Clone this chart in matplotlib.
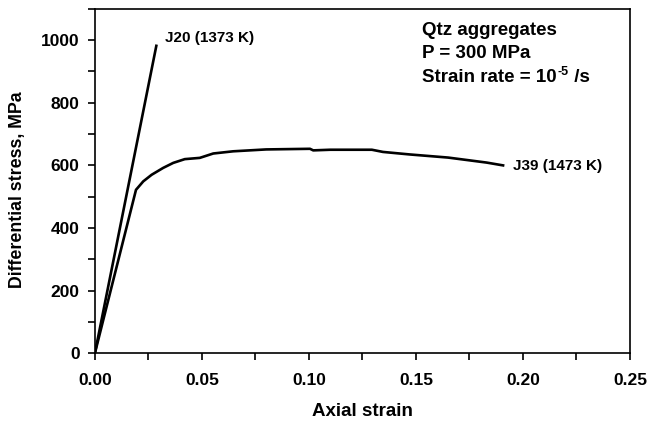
import matplotlib
matplotlib.use('Agg')
import matplotlib.pyplot as plt
from matplotlib.ticker import MultipleLocator, FormatStrFormatter

plt.rcParams['font.family'] = ['Liberation Sans', 'DejaVu Sans']
plt.rcParams['font.weight'] = 'bold'

# J20 (1373 K) - straight elastic loading
j20_strain = [0.0, 0.0287]
j20_stress = [0, 982]

# J39 (1473 K)
j39_strain = [0.0, 0.0192, 0.0226, 0.0265, 0.0319, 0.0366, 0.042, 0.049, 0.0553,
              0.0646, 0.080, 0.1005, 0.102, 0.11, 0.1294, 0.1346, 0.147, 0.165,
              0.183, 0.1907]
j39_stress = [0, 522, 549, 570, 592, 608, 620, 624, 638,
              645, 651, 653, 648, 650, 650, 643, 635, 625,
              609, 600]

fig, ax = plt.subplots(figsize=(6.59, 4.23), dpi=100)
fig.subplots_adjust(left=0.144, right=0.956, top=0.979, bottom=0.165)

ax.plot(j20_strain, j20_stress, color='black', lw=1.9)
ax.plot(j39_strain, j39_stress, color='black', lw=1.9)

ax.set_xlim(0, 0.25)
ax.set_ylim(0, 1100)
ax.xaxis.set_major_locator(MultipleLocator(0.05))
ax.xaxis.set_minor_locator(MultipleLocator(0.025))
ax.xaxis.set_major_formatter(FormatStrFormatter('%.2f'))
ax.set_yticks([0, 200, 400, 600, 800, 1000])
ax.yaxis.set_minor_locator(MultipleLocator(100))
ax.tick_params(which='both', direction='out', top=False, right=False, width=1.2)
ax.tick_params(which='major', length=5, labelsize=12.5)
ax.tick_params(which='minor', length=5)
ax.tick_params(axis='x', which='major', pad=9)
ax.tick_params(axis='y', which='major', pad=6)
for s in ax.spines.values():
    s.set_linewidth(1.2)

ax.set_xlabel('Axial strain', fontsize=13.5, fontweight='bold', labelpad=11)
ax.set_ylabel('Differential stress, MPa', fontsize=12.8, fontweight='bold')
ax.yaxis.set_label_coords(-0.128, 0.474)

ax.text(0.0327, 1008, 'J20 (1373 K)', fontsize=11, fontweight='bold', va='center')
ax.text(0.1953, 598, 'J39 (1473 K)', fontsize=11, fontweight='bold', va='center')
ax.text(0.1528, 1030, 'Qtz aggregates', fontsize=13.5, fontweight='bold', va='center')
ax.text(0.1528, 958, 'P = 300 MPa', fontsize=13.5, fontweight='bold', va='center')
t = ax.text(0.1528, 880, 'Strain rate = 10', fontsize=13.5, fontweight='bold',
            va='center')
# small raised exponent, then the unit
sup = ax.annotate('-5', xy=(1, 1), xycoords=t, xytext=(1, -6), textcoords='offset points',
                  fontsize=9, fontweight='bold', ha='left', va='bottom')
ax.annotate(' /s', xy=(1, 0), xycoords=(sup, t), xytext=(0, 0),
            textcoords='offset points', fontsize=13.5, fontweight='bold',
            ha='left', va='bottom')

fig.savefig('out.png', dpi=100)
